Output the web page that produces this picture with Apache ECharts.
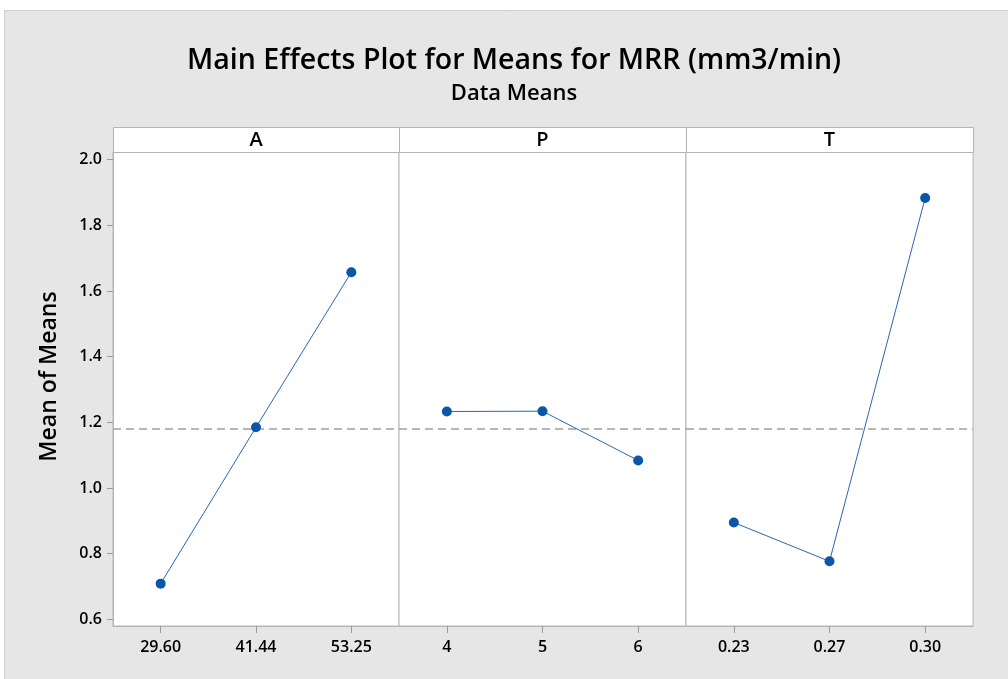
<!DOCTYPE html>
<html>
<head>
<meta charset="utf-8">
<script src="https://cdn.jsdelivr.net/npm/echarts@6/dist/echarts.min.js"></script>
<style>
html,body{margin:0;padding:0;background:#ffffff;}
#c{width:1008px;height:679px;}
</style>
</head>
<body>
<div id="c"></div>
<script>
// ---- data ----
const factors = ['A', 'P', 'T'];
const levelsA = ['29.60', '41.44', '53.25'];
const levelsP = ['4', '5', '6'];
const levelsT = ['0.23', '0.27', '0.30'];
const meansA = [0.709, 1.185, 1.657];
const meansP = [1.233, 1.234, 1.084];
const meansT = [0.895, 0.777, 1.883];
const grandMean = 1.184;
const yTicks = [0.6, 0.8, 1.0, 1.2, 1.4, 1.6, 1.8, 2.0];
const yTitle = 'Mean of Means';

const levels = [levelsA, levelsP, levelsT];
const means = [meansA, meansP, meansT];

// ---- layout ----
const FONT = 'Open Sans';
const plotTop = 127, stripH = 25, plotBottom = 626;
const panelEdges = [113, 399, 686, 973];
const yMin = 0.58, yMax = 2.023;
const borderCol = '#b4b4b4';

const chart = echarts.init(document.getElementById('c'), null, {renderer: 'canvas'});

const grids = [], xAxes = [], yAxes = [], series = [], graphics = [];

graphics.push({
  type: 'rect', z: -10,
  shape: {x: 4.5, y: 10.5, width: 1010, height: 680},
  style: {fill: '#e6e6e6', stroke: '#cfcfcf', lineWidth: 1}
});
graphics.push({
  type: 'text', z: 2, x: 49, y: (plotTop + plotBottom) / 2, rotation: Math.PI / 2,
  style: {text: yTitle, fill: '#000', font: '600 23px "' + FONT + '"', align: 'center', verticalAlign: 'middle'}
});

factors.forEach((f, i) => {
  const left = panelEdges[i], w = panelEdges[i + 1] - panelEdges[i];
  grids.push({
    left: left, top: plotTop + stripH, width: w, height: plotBottom - (plotTop + stripH),
    show: true, backgroundColor: '#ffffff', borderColor: borderCol, borderWidth: 1
  });
  xAxes.push({
    type: 'category', gridIndex: i, data: levels[i], boundaryGap: true,
    axisLine: {show: true, lineStyle: {color: borderCol}},
    axisTick: {show: true, alignWithLabel: true, length: 7, lineStyle: {color: '#9a9a9a'}},
    axisLabel: {margin: 13, color: '#000', fontFamily: FONT, fontSize: 16, fontWeight: 600},
    splitLine: {show: false}
  });
  yAxes.push({
    type: 'value', gridIndex: i, min: yMin, max: yMax,
    show: i === 0,
    axisLine: {show: true, lineStyle: {color: borderCol}},
    axisTick: {show: true, length: 6, lineStyle: {color: '#9a9a9a'}, customValues: yTicks},
    axisLabel: {margin: 11, color: '#000', fontFamily: FONT, fontSize: 16, fontWeight: 600,
      customValues: yTicks, formatter: v => v.toFixed(1)},
    splitLine: {show: false}
  });
  series.push({
    type: 'line', xAxisIndex: i, yAxisIndex: i, data: means[i],
    symbol: 'circle', symbolSize: 10,
    itemStyle: {color: '#0a56a8'},
    lineStyle: {color: '#2a67b0', width: 1},
    z: 5,
    markLine: {
      silent: true, symbol: 'none', label: {show: false},
      lineStyle: {color: '#a0a0a0', type: [8, 5], width: 1.5},
      data: [{yAxis: grandMean}]
    }
  });
  graphics.push({
    type: 'rect', z: 1,
    shape: {x: left + 0.5, y: plotTop + 0.5, width: w, height: stripH},
    style: {fill: '#ffffff', stroke: borderCol, lineWidth: 1}
  });
  graphics.push({
    type: 'text', z: 2,
    x: left + w / 2, y: plotTop + stripH / 2 + 1,
    style: {text: f, fill: '#000', font: '600 20px "' + FONT + '"', align: 'center', verticalAlign: 'middle'}
  });
});

chart.setOption({
  animation: false,
  backgroundColor: '#ffffff',
  title: [
    {text: 'Main Effects Plot for Means for MRR (mm3/min)', left: 514, top: 46, textAlign: 'center', padding: 0,
     textStyle: {fontFamily: FONT, fontSize: 28.5, fontWeight: 600, color: '#000'}},
    {text: 'Data Means', left: 514, top: 83, textAlign: 'center', padding: 0,
     textStyle: {fontFamily: FONT, fontSize: 22, fontWeight: 600, color: '#000'}}
  ],
  grid: grids,
  xAxis: xAxes,
  yAxis: yAxes,
  series: series,
  graphic: graphics
});
</script>
</body>
</html>
